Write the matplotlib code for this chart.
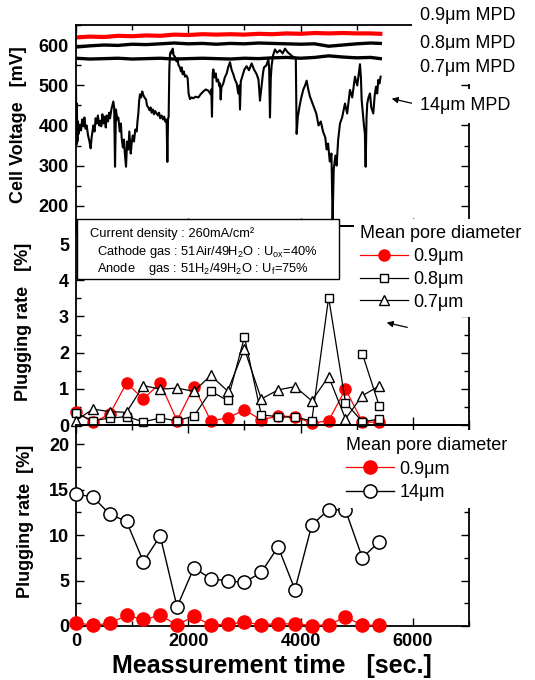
import numpy as np
import matplotlib
matplotlib.use("Agg")
import matplotlib.pyplot as plt
from matplotlib.ticker import MultipleLocator
from matplotlib.patches import Rectangle

plt.rcParams['font.family'] = ['Liberation Sans', 'DejaVu Sans']
plt.rcParams['mathtext.fontset'] = 'custom'
plt.rcParams['mathtext.rm'] = 'Liberation Sans'
plt.rcParams['mathtext.it'] = 'Liberation Sans:italic'
plt.rcParams['mathtext.bf'] = 'Liberation Sans:bold'

# ---------------- data: top panel (cell voltage traces) ----------------
t14 = [0, 8, 15, 25, 35, 50, 71, 90, 110, 131, 150, 170, 190, 215, 240, 261, 280, 309, 330, 350,
       368, 390, 410, 427, 450, 470, 487, 510, 530, 546, 570, 590, 606, 630, 650, 665, 680, 695, 712, 735,
       754, 780, 800, 813, 835, 855, 870, 891, 910, 932, 950, 962, 975, 991, 1010, 1033, 1055, 1081, 1095,
       1110, 1125, 1140, 1160, 1180, 1199, 1220, 1247, 1265, 1288, 1310, 1330, 1348, 1370, 1390, 1410, 1437, 1460, 1480, 1500,
       1526, 1550, 1570, 1590, 1603, 1615, 1627, 1640, 1650, 1662, 1674, 1690, 1705, 1722, 1740, 1763, 1790, 1810, 1823, 1850,
       1870, 1882, 1900, 1920, 1941, 1965, 1989, 2005, 2030, 2060, 2090, 2130, 2179, 2220, 2268, 2310, 2357, 2380, 2399, 2410,
       2422, 2435, 2446, 2470, 2490, 2505, 2530, 2553, 2565, 2577, 2590, 2624, 2650, 2684, 2710, 2743, 2770, 2802, 2830, 2862,
       2890, 2910, 2921, 2935, 2968, 3000, 3040, 3080, 3129, 3170, 3218, 3250, 3277, 3290, 3307, 3330, 3348, 3390, 3426, 3440,
       3455, 3470, 3485, 3510, 3544, 3580, 3633, 3680, 3722, 3770, 3812, 3860, 3900, 3915, 3930, 3950, 3978, 4010, 4049, 4080,
       4108, 4140, 4168, 4200, 4240, 4280, 4320, 4360, 4400, 4440, 4464, 4490, 4520, 4550, 4571, 4590, 4620, 4642, 4670, 4702,
       4740, 4791, 4830, 4880, 4920, 4969, 5010, 5058, 5075, 5088, 5110, 5129, 5145, 5159, 5175, 5188, 5210, 5236, 5260, 5295,
       5320, 5343, 5365, 5384, 5405, 5426]
v14 = [497, 352, 455, 360, 410, 380, 402, 388, 415, 398, 420, 392, 400, 375, 360, 343, 372, 400, 385, 418,
       405, 425, 400, 412, 398, 428, 405, 422, 395, 425, 410, 432, 418, 440, 452, 460, 445, 297, 440, 415,
       420, 385, 405, 370, 345, 365, 330, 297, 360, 340, 385, 360, 330, 355, 375, 360, 390, 385, 410,
       430, 462, 478, 470, 485, 476, 470, 465, 450, 445, 438, 445, 432, 440, 428, 436, 430, 425, 432, 418,
       425, 415, 422, 410, 415, 405, 309, 418, 420, 540, 578, 585, 580, 592, 575, 572, 560, 568, 552, 545,
       535, 545, 528, 535, 522, 525, 518, 480, 466, 470, 468, 472, 470, 478, 485, 490, 487, 482, 478, 490,
       422, 530, 540, 520, 530, 510, 515, 498, 505, 465, 495, 505, 520, 530, 545, 558, 540, 528, 515, 505,
       480, 500, 440, 510, 525, 540, 548, 538, 555, 540, 528, 515, 462, 480, 500, 530, 545, 550, 565, 545,
       420, 520, 550, 575, 590, 582, 588, 580, 592, 583, 578, 572, 570, 568, 379, 420, 445, 468, 490, 500,
       512, 488, 472, 460, 445, 430, 400, 410, 385, 370, 340, 355, 310, 330, 160, 290, 325, 300, 365, 405,
       420, 455, 430, 489, 470, 522, 500, 553, 520, 464, 430, 400, 380, 297, 420, 455, 470, 480, 445, 430,
       475, 497, 480, 514, 505, 522]

t_flat = [0, 250, 500, 750, 1000, 1250, 1500, 1750, 2000, 2250, 2500, 2750, 3000,
          3250, 3500, 3750, 4000, 4250, 4500, 4750, 5000, 5250, 5420]
v09_trace = [620, 622, 621, 624, 623, 625, 624, 627, 626, 628, 627, 628, 627,
             629, 628, 630, 629, 631, 630, 631, 630, 630, 629]
v08_trace = [596, 599, 601, 600, 603, 602, 604, 606, 604, 605, 603, 605, 604,
             606, 605, 604, 603, 604, 598, 601, 604, 606, 605]
v07_trace = [568, 566, 567, 568, 566, 567, 568, 566, 567, 568, 567, 566, 568,
             567, 569, 570, 568, 570, 574, 571, 569, 570, 567]

trace_labels = ["0.9\u03bcm MPD", "0.8\u03bcm MPD", "0.7\u03bcm MPD", "14\u03bcm MPD"]

# ---------------- data: plugging rate ----------------
t_rate = [0, 300, 600, 900, 1200, 1500, 1800, 2100, 2400, 2700,
          3000, 3300, 3600, 3900, 4200, 4500, 4800, 5100, 5400]
rate_09 = [0.37, 0.07, 0.30, 1.16, 0.72, 1.16, 0.12, 1.06, 0.12, 0.19,
           0.42, 0.14, 0.25, 0.23, 0.05, 0.12, 0.99, 0.09, 0.07]
rate_08 = [0.32, 0.12, 0.19, 0.23, 0.09, 0.19, 0.12, 0.25, 0.93, 0.68,
           2.43, 0.28, 0.23, 0.21, 0.12, 3.52, 0.62, 0.09, 0.16]
t_08_extra = [5100, 5400]
rate_08_extra = [1.97, 0.53]
rate_07 = [0.12, 0.44, 0.37, 0.35, 1.09, 0.99, 1.02, 0.93, 1.37, 0.94,
           2.10, 0.72, 0.97, 1.06, 0.67, 1.34, 0.17, 0.81, 1.08]
rate_14 = [14.5, 14.2, 12.3, 11.5, 7.06, 9.9, 2.1, 6.4, 5.2, 4.96,
           4.8, 5.9, 8.7, 4.0, 11.1, 12.8, 12.75, 7.5, 9.26]

mid_labels = ["0.9\u03bcm", "0.8\u03bcm", "0.7\u03bcm"]
bot_labels = ["0.9\u03bcm", "14\u03bcm"]
legend_title = "Mean pore diameter"

# ---------------- figure ----------------
W, H = 535, 680
fig = plt.figure(figsize=(W / 100, H / 100), dpi=100)

def fx(px):
    return px / W

def fy(py):
    return 1 - py / H

L = fx(76)
AW = (469 - 76) / W
ax1 = fig.add_axes([L, fy(226), AW, 201 / H])
ax2 = fig.add_axes([L, fy(425), AW, 199 / H])
ax3 = fig.add_axes([L, fy(626), AW, 201 / H])

for ax in (ax1, ax2, ax3):
    ax.patch.set_visible(False)
    ax.set_xlim(0, 7000)
    ax.xaxis.set_major_locator(MultipleLocator(2000))
    ax.xaxis.set_minor_locator(MultipleLocator(1000))
    ax.tick_params(which='both', direction='in', top=True, right=True, width=1.0)
    ax.tick_params(which='major', length=6, labelsize=13, pad=5)
    ax.tick_params(which='minor', length=3.5)
    for s in ax.spines.values():
        s.set_linewidth(1.3)

ax1.tick_params(labelbottom=False)
ax2.tick_params(labelbottom=False)

# top panel
ax1.set_ylim(149, 651)
ax1.yaxis.set_major_locator(MultipleLocator(100))
ax1.yaxis.set_minor_locator(MultipleLocator(50))
ax1.set_yticks([200, 300, 400, 500, 600])
ax1.plot(t_flat, v09_trace, color='#ff0000', lw=3.0, solid_joinstyle='round')
ax1.plot(t_flat, v08_trace, color='black', lw=2.4)
ax1.plot(t_flat, v07_trace, color='black', lw=2.4)
ax1.plot(t14, v14, color='black', lw=1.5)

# middle panel
ax2.set_ylim(0, 5.5)
ax2.yaxis.set_major_locator(MultipleLocator(1))
ax2.yaxis.set_minor_locator(MultipleLocator(0.5))
ax2.set_yticks([0, 1, 2, 3, 4, 5])
h1, = ax2.plot(t_rate, rate_09, color='#ff0000', lw=0.9, marker='o', ms=8,
               mfc='#ff0000', mec='#ff0000', clip_on=False, zorder=3)
h2, = ax2.plot(t_rate, rate_08, color='black', lw=0.9, marker='s', ms=6.2,
               mfc='white', mec='black', mew=1.0, clip_on=False, zorder=4)
ax2.plot(t_08_extra, rate_08_extra, color='black', lw=0.9, marker='s', ms=6.2,
         mfc='white', mec='black', mew=1.0, clip_on=False, zorder=4)
h3, = ax2.plot(t_rate, rate_07, color='black', lw=0.9, marker='^', ms=7.5,
               mfc='white', mec='black', mew=1.0, clip_on=False, zorder=4)

# bottom panel
ax3.set_ylim(0, 22.1)
ax3.yaxis.set_major_locator(MultipleLocator(5))
ax3.yaxis.set_minor_locator(MultipleLocator(2.5))
ax3.set_yticks([0, 5, 10, 15, 20])
g1, = ax3.plot(t_rate, rate_09, color='#ff0000', lw=0.9, marker='o', ms=9.5,
               mfc='#ff0000', mec='#ff0000', clip_on=False, zorder=3)
g2, = ax3.plot(t_rate, rate_14, color='black', lw=1.0, marker='o', ms=9.5,
               mfc='white', mec='black', mew=1.1, clip_on=False, zorder=4)

for ax in (ax1, ax2, ax3):
    for lab in ax.get_xticklabels() + ax.get_yticklabels():
        lab.set_fontweight('bold')

# legends
leg2 = ax2.legend([h1, h2, h3], mid_labels, title=legend_title, loc='upper left',
                  bbox_to_anchor=(fx(354), fy(219)), bbox_transform=fig.transFigure,
                  fontsize=13, title_fontsize=13, alignment='left', frameon=True,
                  fancybox=False, framealpha=1, edgecolor='none', facecolor='white',
                  borderpad=0.35, borderaxespad=0, handlelength=2.65,
                  handletextpad=0.3, labelspacing=0.32)
leg3 = ax3.legend([g1, g2], bot_labels, title=legend_title, loc='upper left',
                  bbox_to_anchor=(fx(339), fy(430)), bbox_transform=fig.transFigure,
                  fontsize=13, title_fontsize=13, alignment='left', frameon=True,
                  fancybox=False, framealpha=1, edgecolor='none', facecolor='white',
                  borderpad=0.4, borderaxespad=0, handlelength=2.65,
                  handletextpad=0.3, labelspacing=0.35)

# axis labels
fig.text(fx(19), fy(125), "Cell Voltage   [mV]", rotation=90, ha='center', va='center',
         fontsize=13, fontweight='bold')
fig.text(fx(24), fy(322), "Plugging rate   [%]", rotation=90, ha='center', va='center',
         fontsize=13, fontweight='bold')
fig.text(fx(26), fy(521), "Plugging rate  [%]", rotation=90, ha='center', va='center',
         fontsize=13, fontweight='bold')
fig.text(fx(272), fy(666), "Meassurement time   [sec.]", ha='center', va='center',
         fontsize=18, fontweight='bold')

# trace labels at the right of the top panel
label_y = [15, 43, 67, 106]
for lbl, yy in zip(trace_labels, label_y):
    fig.text(fx(420), fy(yy), lbl, ha='left', va='center', fontsize=13,
             bbox=dict(boxstyle='square,pad=0.45', fc='white', ec='none'), zorder=6)

ax1.annotate('', xy=(fx(389), fy(98)), xycoords='figure fraction',
             xytext=(fx(415), fy(104)), textcoords='figure fraction',
             arrowprops=dict(arrowstyle='-|>', color='black', lw=0.9, mutation_scale=9),
             annotation_clip=False)
ax2.annotate('', xy=(fx(384), fy(322)), xycoords='figure fraction',
             xytext=(fx(410), fy(328)), textcoords='figure fraction',
             arrowprops=dict(arrowstyle='-|>', color='black', lw=0.9, mutation_scale=9),
             annotation_clip=False)

# condition box
rect = Rectangle((fx(77), fy(279)), fx(339) - fx(77), (279 - 219) / H,
                 transform=fig.transFigure, facecolor='white', edgecolor='black',
                 lw=1.0, zorder=5)
fig.add_artist(rect)
fig.text(fx(90), fy(234), "Current density : 260mA/cm\u00b2", ha='left', va='center',
         fontsize=9.3, zorder=6)
fig.text(fx(97), fy(252), r"Cathode gas : 51Air/49H$_2$O : U$_{\mathrm{ox}}$=40%",
         ha='left', va='center', fontsize=9.3, zorder=6)
fig.text(fx(97), fy(269), r"Anode    gas : 51H$_2$/49H$_2$O : U$_{\mathrm{f}}$=75%",
         ha='left', va='center', fontsize=9.3, zorder=6)

fig.savefig("out.png", dpi=100)
